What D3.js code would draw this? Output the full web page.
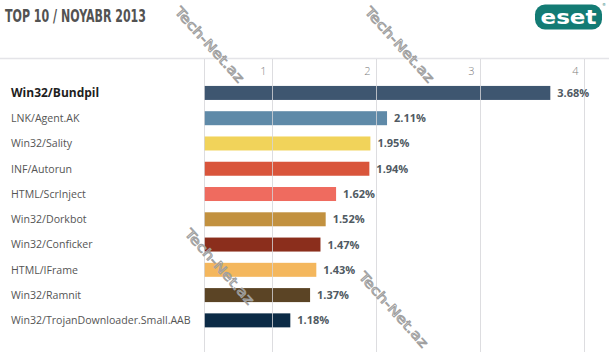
<!DOCTYPE html>
<html>
<head>
<meta charset="utf-8">
<script src="https://cdn.jsdelivr.net/npm/d3@7"></script>
<style>
  html, body { margin: 0; padding: 0; background: #fff; }
  svg { display: block; }
</style>
</head>
<body>
<svg id="chart" width="609" height="352"></svg>
<script>
// ---- data ----
const threats = ["Win32/Bundpil", "LNK/Agent.AK", "Win32/Sality", "INF/Autorun", "HTML/ScrInject",
                 "Win32/Dorkbot", "Win32/Conficker", "HTML/IFrame", "Win32/Ramnit",
                 "Win32/TrojanDownloader.Small.AAB"];
const shares = [3.68, 2.11, 1.95, 1.94, 1.62, 1.52, 1.47, 1.43, 1.37, 1.18];
const barColors = ["#3e5670", "#5f8aa8", "#f1d35a", "#d9553b", "#ef6b5f",
                   "#c2913f", "#8b2e1c", "#f4b75d", "#5b4425", "#0c2b46"];
const ticks = [1, 2, 3, 4];

const W = 609, H = 352;
const svg = d3.select("#chart");

// x scale: the plot area starts at x=204, the bars run from there
const x = d3.scaleLinear().domain([0.35, 4.2]).range([204, 604.4]);
const y = d3.scaleBand().domain(threats).range([80.3, 333]).paddingInner(0.446).paddingOuter(0.223);

// header separator
svg.append("line")
   .attr("x1", 0).attr("x2", W).attr("y1", 58.5).attr("y2", 58.5)
   .attr("stroke", "#e4e4e8").attr("stroke-width", 1.5);

// title
svg.append("text")
   .attr("x", 5).attr("y", 22)
   .attr("textLength", 141).attr("lengthAdjust", "spacingAndGlyphs")
   .style("font-family", "'DejaVu Sans Condensed', 'DejaVu Sans', sans-serif")
   .style("font-weight", "bold").style("font-size", "18px")
   .attr("fill", "#525252")
   .text("TOP 10 / NOYABR 2013");

// ESET logo
const logo = svg.append("g");
logo.append("rect")
    .attr("x", 535).attr("y", 4.5).attr("width", 67).attr("height", 25).attr("rx", 10)
    .attr("fill", "#137b74");
logo.append("text")
    .attr("x", 568.5).attr("y", 24).attr("text-anchor", "middle")
    .attr("textLength", 56).attr("lengthAdjust", "spacingAndGlyphs")
    .style("font-family", "'DejaVu Sans', sans-serif").style("font-weight", "bold").style("font-size", "20px")
    .attr("fill", "#fff").text("eset");
logo.append("text")
    .attr("x", 604).attr("y", 6).attr("text-anchor", "middle")
    .style("font-family", "'DejaVu Sans', sans-serif").style("font-size", "4px")
    .attr("fill", "#137b74").text("®");

// bars
svg.append("g").selectAll("rect")
   .data(threats)
   .join("rect")
   .attr("x", x(x.domain()[0]))
   .attr("y", d => y(d))
   .attr("width", (d, i) => x(shares[i]) - x(x.domain()[0]))
   .attr("height", y.bandwidth())
   .attr("fill", (d, i) => barColors[i]);

// gridlines (drawn over the bars, faintly)
const grid = svg.append("g");
grid.selectAll("line")
    .data([x.domain()[0]].concat(ticks))
    .join("line")
    .attr("x1", d => Math.round(x(d)) + 0.5).attr("x2", d => Math.round(x(d)) + 0.5)
    .attr("y1", 59).attr("y2", H)
    .attr("stroke", "#d4d4d8").attr("stroke-opacity", 0.8);

// tick labels
svg.append("g").selectAll("text")
   .data(ticks)
   .join("text")
   .attr("x", d => x(d) - 5).attr("y", 75)
   .attr("text-anchor", "end")
   .style("font-family", "'Open Sans', sans-serif").style("font-size", "11px").style("font-weight", "300")
   .attr("fill", "#808080")
   .text(d => d);

// category labels
svg.append("g").selectAll("text")
   .data(threats)
   .join("text")
   .attr("x", 11)
   .attr("y", d => y(d) + y.bandwidth() / 2)
   .attr("dy", "0.36em")
   .style("font-family", "'Open Sans', sans-serif")
   .style("font-size", (d, i) => i === 0 ? "12px" : "10.6px")
   .style("font-weight", (d, i) => i === 0 ? "bold" : "normal")
   .attr("fill", (d, i) => i === 0 ? "#1e1e1e" : "#555")
   .text(d => d);

// value labels
svg.append("g").selectAll("text")
   .data(threats)
   .join("text")
   .attr("x", (d, i) => x(shares[i]) + 7)
   .attr("y", d => y(d) + y.bandwidth() / 2)
   .attr("dy", "0.36em")
   .style("font-family", "'Open Sans', sans-serif").style("font-size", "11px").style("font-weight", "bold")
   .attr("fill", "#505a62")
   .text((d, i) => shares[i].toFixed(2) + "%");

// watermarks
const marks = [[174, 12], [364, 12], [184, 234], [358, 277]];
svg.append("g").selectAll("text")
   .data(marks)
   .join("text")
   .attr("transform", d => `translate(${d[0]},${d[1]}) rotate(48)`)
   .style("font-family", "'DejaVu Sans', sans-serif").style("font-size", "13px")
   .attr("textLength", 96).attr("lengthAdjust", "spacingAndGlyphs")
   .attr("fill", "none").attr("stroke", "#a0a0a0").attr("stroke-width", 0.9)
   .text("Tech-Net.az");
</script>
</body>
</html>
